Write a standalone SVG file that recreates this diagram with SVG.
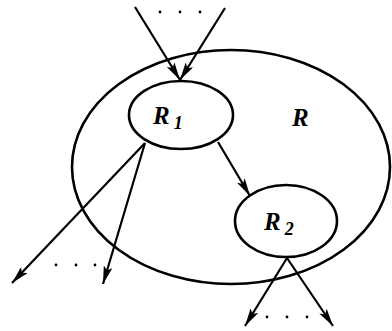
<svg xmlns="http://www.w3.org/2000/svg" width="392" height="331" viewBox="0 0 392 331">
<style>
.sh{fill:none;stroke:#000;stroke-width:2.6}
.ln{fill:none;stroke:#000;stroke-width:2.2;marker-end:url(#ah)}
.t{font-family:"Liberation Serif",serif;font-style:italic;font-weight:bold;font-size:25px;fill:#000}
.s{font-family:"Liberation Serif",serif;font-weight:bold;font-size:18px;fill:#000}
.d{fill:#000}
</style>
<defs>
<marker id="ah" viewBox="0 0 18 9" refX="18" refY="4.5" markerWidth="18" markerHeight="9" markerUnits="userSpaceOnUse" orient="auto">
<path d="M0,0 L18,4.5 L0,9 L4,4.5 Z" fill="#000"/>
</marker>
</defs>
<rect width="392" height="331" fill="#fff"/>
<g id="R">
<ellipse class="sh" cx="231" cy="167" rx="159" ry="117"/>
<text class="t" x="292" y="126">R</text>
</g>
<g id="R1">
<ellipse class="sh" cx="181" cy="115" rx="52" ry="34"/>
<text class="t" x="153" y="124">R<tspan class="s" dx="4" dy="5">1</tspan></text>
</g>
<g id="R2">
<ellipse class="sh" cx="286" cy="221" rx="51" ry="36"/>
<text class="t" x="264" y="230">R<tspan class="s" dx="4" dy="5">2</tspan></text>
</g>
<g id="connectors">
<line class="ln" x1="135" y1="7" x2="180" y2="80"/>
<line class="ln" x1="225" y1="8" x2="180" y2="80"/>
<line class="ln" x1="145" y1="143" x2="12" y2="283"/>
<line class="ln" x1="145" y1="143" x2="103" y2="284"/>
<line class="ln" x1="218" y1="142" x2="250" y2="196"/>
<line class="ln" x1="287" y1="258" x2="245" y2="326"/>
<line class="ln" x1="287" y1="258" x2="333" y2="326"/>
<circle class="d" cx="160" cy="12" r="1.4"/>
<circle class="d" cx="180" cy="12" r="1.4"/>
<circle class="d" cx="200" cy="12" r="1.4"/>
<circle class="d" cx="56" cy="265" r="1.4"/>
<circle class="d" cx="76" cy="265" r="1.4"/>
<circle class="d" cx="95" cy="265" r="1.4"/>
<circle class="d" cx="267" cy="317" r="1.4"/>
<circle class="d" cx="287" cy="317" r="1.4"/>
<circle class="d" cx="307" cy="317" r="1.4"/>
</g>
</svg>
